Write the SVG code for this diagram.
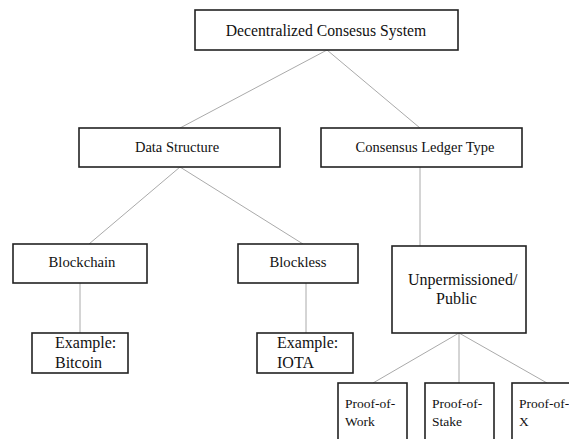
<svg xmlns="http://www.w3.org/2000/svg" width="569" height="439" viewBox="0 0 569 439">
<style>
.box{fill:#fff;stroke:#222;stroke-width:1.6}
text{font-family:'Liberation Serif','DejaVu Serif',serif;fill:#111}
.c{text-anchor:middle}
.con{stroke:#aaa;stroke-width:1;fill:none}
</style>
<rect width="569" height="439" fill="#fff"/>
<g id="connectors">
<line class="con" x1="327" y1="50" x2="180" y2="128"/>
<line class="con" x1="327" y1="50" x2="420" y2="128"/>
<line class="con" x1="180" y1="167" x2="89" y2="244"/>
<line class="con" x1="180" y1="167" x2="303" y2="244"/>
<line class="con" x1="80" y1="283" x2="80" y2="333"/>
<line class="con" x1="306" y1="283" x2="306" y2="333"/>
<line class="con" x1="420" y1="167" x2="420" y2="246"/>
<line class="con" x1="459" y1="333" x2="373" y2="383"/>
<line class="con" x1="459" y1="333" x2="459" y2="383"/>
<line class="con" x1="459" y1="333" x2="547" y2="383"/>
</g>
<g id="root">
<rect class="box" x="195" y="10" width="263" height="40"/>
<text class="c" x="326" y="36" font-size="15.7">Decentralized Consesus System</text>
</g>
<g id="data-structure">
<rect class="box" x="79" y="128" width="201" height="39"/>
<text class="c" x="177" y="152" font-size="14.5">Data Structure</text>
</g>
<g id="consensus-ledger">
<rect class="box" x="321" y="128" width="201" height="39"/>
<text class="c" x="425" y="152" font-size="14.5">Consensus Ledger Type</text>
</g>
<g id="blockchain">
<rect class="box" x="13" y="244" width="134" height="39"/>
<text class="c" x="82" y="267" font-size="14.7">Blockchain</text>
</g>
<g id="blockless">
<rect class="box" x="238" y="244" width="120" height="39"/>
<text class="c" x="298" y="267" font-size="14.7">Blockless</text>
</g>
<g id="example-bitcoin">
<rect class="box" x="32" y="333" width="96" height="40"/>
<text x="55" y="348" font-size="16">Example:</text>
<text x="55" y="368" font-size="16">Bitcoin</text>
</g>
<g id="example-iota">
<rect class="box" x="257" y="333" width="96" height="40"/>
<text x="277" y="348" font-size="16">Example:</text>
<text x="277" y="368" font-size="16">IOTA</text>
</g>
<g id="unpermissioned">
<rect class="box" x="392" y="246" width="134" height="87"/>
<text x="408" y="285" font-size="16">Unpermissioned/</text>
<text x="436" y="304" font-size="16">Public</text>
</g>
<g id="pow">
<rect class="box" x="338" y="383" width="69" height="70"/>
<text x="345" y="408" font-size="13.5">Proof-of-</text>
<text x="345" y="426" font-size="13.5">Work</text>
</g>
<g id="pos">
<rect class="box" x="425" y="383" width="69" height="70"/>
<text x="432" y="408" font-size="13.5">Proof-of-</text>
<text x="432" y="426" font-size="13.5">Stake</text>
</g>
<g id="pox">
<rect class="box" x="512" y="383" width="69" height="70"/>
<text x="519" y="408" font-size="13.5">Proof-of-</text>
<text x="519" y="426" font-size="13.5">X</text>
</g>
</svg>
